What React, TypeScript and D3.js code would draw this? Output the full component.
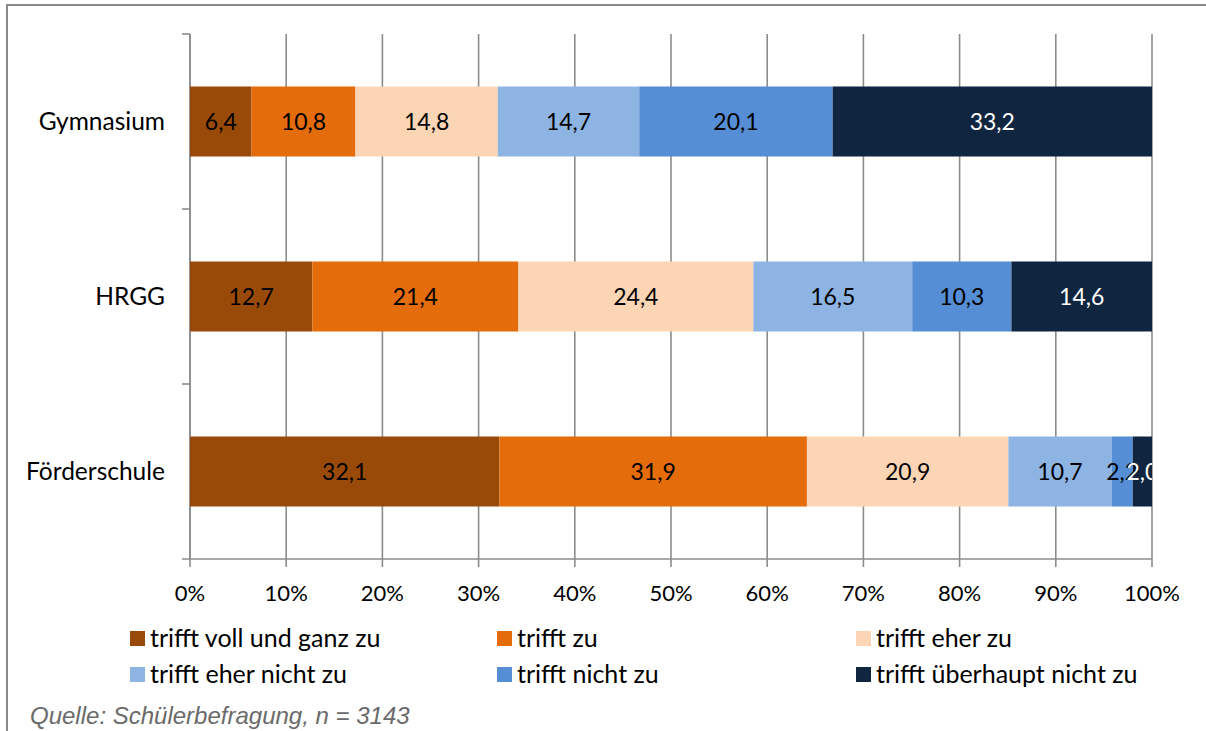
import React from "react";
import * as d3 from "d3";

const categories = ["Gymnasium", "HRGG", "Förderschule"];
const seriesNames = [
  "trifft voll und ganz zu",
  "trifft zu",
  "trifft eher zu",
  "trifft eher nicht zu",
  "trifft nicht zu",
  "trifft überhaupt nicht zu",
];
const seriesColors = ["#9A4A08", "#E46C0A", "#FCD5B5", "#8EB4E3", "#558ED5", "#10253F"];
const labelColors = ["#000", "#000", "#000", "#000", "#000", "#fff"];
const gymnasium = [6.4, 10.8, 14.8, 14.7, 20.1, 33.2];
const hrgg = [12.7, 21.4, 24.4, 16.5, 10.3, 14.6];
const foerderschule = [32.1, 31.9, 20.9, 10.7, 2.2, 2.0];
const values = [gymnasium, hrgg, foerderschule];
const xTicks = [0, 0.1, 0.2, 0.3, 0.4, 0.5, 0.6, 0.7, 0.8, 0.9, 1];
const source = "Quelle: Schülerbefragung, n = 3143";

const FONT = "Lato, 'Open Sans', sans-serif";

export default function App() {
  const W = 1206, H = 731;
  const left = 190, right = 1152, top = 34, bottom = 559;
  const x = d3.scaleLinear().domain([0, 1]).range([left, right]);
  const y = d3.scaleBand<string>().domain(categories).range([top, bottom]).paddingInner(0.6).paddingOuter(0.3);
  const yBand = d3.scaleBand<string>().domain(categories).range([top, bottom]);
  const fmt = (v: number) => d3.format(".1f")(v).replace(".", ",");
  const pct = d3.format(".0%");

  const rows = values.map((vals, i) => {
    const total = d3.sum(vals);
    const cum = d3.cumsum(vals);
    return vals.map((v, j) => ({
      cat: categories[i],
      j,
      v,
      x0: (cum[j] - v) / total,
      x1: cum[j] / total,
    }));
  });

  const legendCols = [130, 497, 856];
  const legendRows = [631, 667];

  return (
    <svg width={W} height={H} style={{ position: "absolute", left: 0, top: 0 }}>
      <rect x={0} y={0} width={W} height={H} fill="#fff" />
      <rect x={7} y={5} width={1240} height={780} fill="none" stroke="#888" strokeWidth={2} />
      <defs>
        <clipPath id="plot">
          <rect x={left} y={top} width={right - left} height={bottom - top} />
        </clipPath>
      </defs>
      {xTicks.map((t) => (
        <line key={t} x1={x(t)} x2={x(t)} y1={top} y2={bottom + 8} stroke="#8c8c8c" strokeWidth={1.6} />
      ))}
      <line x1={left} x2={left} y1={top} y2={bottom} stroke="#8c8c8c" strokeWidth={1.6} />
      {categories.map((c) => (
        <line key={c} x1={left - 8} x2={left} y1={yBand(c)!} y2={yBand(c)!} stroke="#8c8c8c" strokeWidth={1.6} />
      ))}
      <line x1={left - 8} x2={right} y1={bottom} y2={bottom} stroke="#8c8c8c" strokeWidth={1.6} />
      {rows.map((r) =>
        r.map((s) => (
          <rect
            key={s.cat + s.j}
            x={x(s.x0)}
            y={y(s.cat)!}
            width={x(s.x1) - x(s.x0)}
            height={y.bandwidth()}
            fill={seriesColors[s.j]}
          />
        ))
      )}
      <g clipPath="url(#plot)">
        {rows.map((r) =>
          r.map((s) => (
            <text
              key={"l" + s.cat + s.j}
              x={(x(s.x0) + x(s.x1)) / 2}
              y={y(s.cat)! + y.bandwidth() / 2}
              dy="0.35em"
              textAnchor="middle"
              fontFamily={FONT}
              fontSize={23}
              fill={labelColors[s.j]}
            >
              {fmt(s.v)}
            </text>
          ))
        )}
      </g>
      {categories.map((c) => (
        <text
          key={"c" + c}
          x={165}
          y={y(c)! + y.bandwidth() / 2}
          dy="0.35em"
          textAnchor="end"
          fontFamily={FONT}
          fontSize={24.5}
          fill="#000"
        >
          {c}
        </text>
      ))}
      {xTicks.map((t) => (
        <text key={"t" + t} x={x(t)} y={593} dy="0.35em" textAnchor="middle" fontFamily={FONT} fontSize={22} fill="#000">
          {pct(t)}
        </text>
      ))}
      {seriesNames.map((n, i) => {
        const cx = legendCols[i % 3];
        const cy = legendRows[Math.floor(i / 3)];
        return (
          <g key={n}>
            <rect x={cx} y={cy} width={15} height={15} fill={seriesColors[i]} />
            <text x={cx + 20} y={cy + 7.5} dy="0.35em" fontFamily={FONT} fontSize={25} fill="#000">
              {n}
            </text>
          </g>
        );
      })}
      <text x={30} y={724} fontFamily="'Liberation Sans', Arial, sans-serif" fontStyle="italic" fontSize={24} fill="#6a6a6a">
        {source}
      </text>
    </svg>
  );
}
